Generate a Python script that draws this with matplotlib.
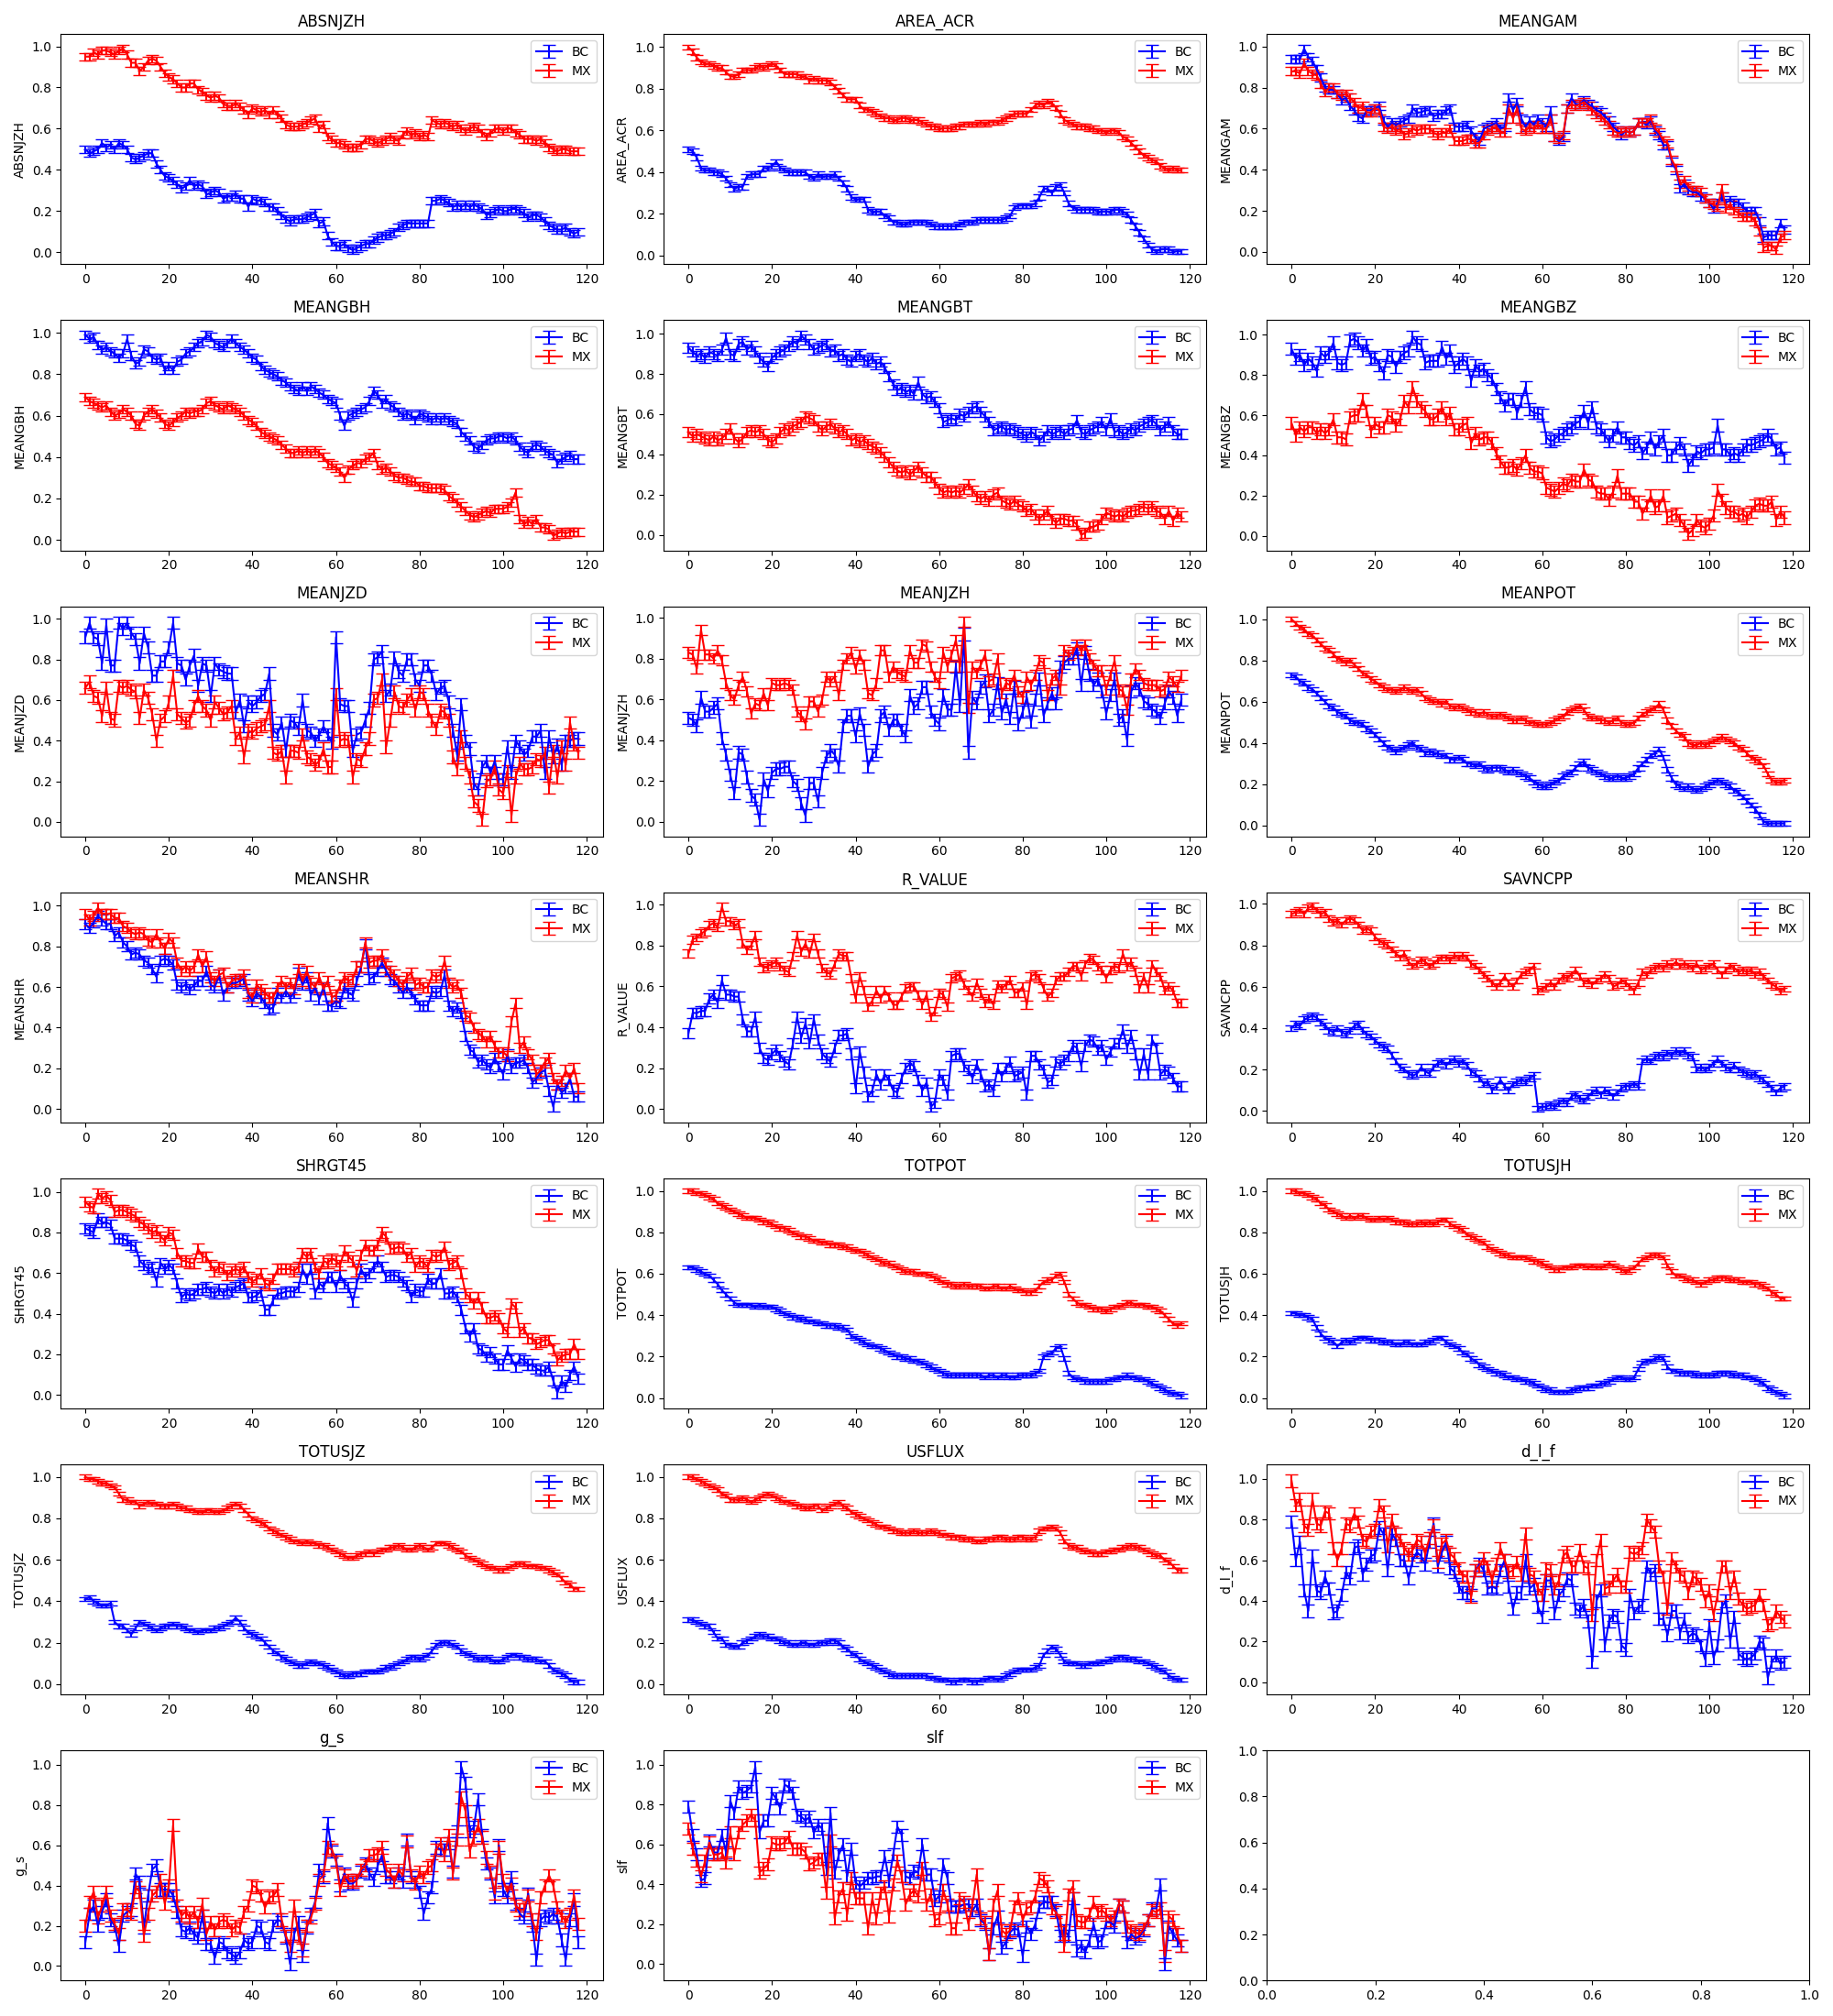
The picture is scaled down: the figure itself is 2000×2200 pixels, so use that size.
import numpy as np
import matplotlib
matplotlib.use("Agg")
import matplotlib.pyplot as plt

FEATURES = ["ABSNJZH", "AREA_ACR", "MEANGAM", "MEANGBH", "MEANGBT", "MEANGBZ",
            "MEANJZD", "MEANJZH", "MEANPOT", "MEANSHR", "R_VALUE", "SAVNCPP",
            "SHRGT45", "TOTPOT", "TOTUSJH", "TOTUSJZ", "USFLUX", "d_l_f", "g_s", "slf"]

ABSNJZH_BC = [0.50, 0.48, 0.49, 0.50, 0.53, 0.51, 0.52, 0.50, 0.53, 0.52,
              0.50, 0.46, 0.45, 0.46, 0.47, 0.48, 0.48, 0.43, 0.40, 0.37,
              0.36, 0.35, 0.33, 0.31, 0.32, 0.35, 0.32, 0.33, 0.32, 0.28,
              0.29, 0.30, 0.29, 0.26, 0.27, 0.27, 0.28, 0.26, 0.26, 0.22,
              0.26, 0.25, 0.25, 0.24, 0.22, 0.22, 0.20, 0.18, 0.16, 0.15,
              0.16, 0.16, 0.16, 0.17, 0.18, 0.19, 0.14, 0.15, 0.08, 0.05,
              0.03, 0.03, 0.04, 0.02, 0.01, 0.02, 0.03, 0.04, 0.04, 0.06,
              0.07, 0.08, 0.08, 0.09, 0.10, 0.12, 0.13, 0.14, 0.14, 0.14,
              0.14, 0.14, 0.14, 0.25, 0.25, 0.26, 0.25, 0.24, 0.22, 0.23,
              0.22, 0.23, 0.22, 0.23, 0.22, 0.21, 0.18, 0.19, 0.20, 0.21,
              0.20, 0.20, 0.21, 0.21, 0.20, 0.19, 0.17, 0.18, 0.18, 0.17,
              0.15, 0.13, 0.12, 0.11, 0.11, 0.12, 0.10, 0.09, 0.10]
ABSNJZH_MX = [0.95, 0.95, 0.97, 0.96, 0.98, 0.98, 0.97, 0.96, 0.98, 0.99,
              0.96, 0.92, 0.92, 0.88, 0.90, 0.93, 0.94, 0.93, 0.90, 0.87,
              0.85, 0.84, 0.82, 0.80, 0.80, 0.82, 0.82, 0.79, 0.78, 0.76,
              0.75, 0.76, 0.75, 0.72, 0.71, 0.71, 0.72, 0.71, 0.69, 0.67,
              0.70, 0.69, 0.68, 0.69, 0.67, 0.69, 0.67, 0.65, 0.62, 0.61,
              0.61, 0.61, 0.62, 0.63, 0.64, 0.65, 0.60, 0.62, 0.56, 0.55,
              0.53, 0.53, 0.52, 0.51, 0.51, 0.51, 0.52, 0.55, 0.55, 0.54,
              0.53, 0.54, 0.55, 0.56, 0.55, 0.54, 0.57, 0.59, 0.57, 0.58,
              0.56, 0.57, 0.56, 0.64, 0.63, 0.62, 0.63, 0.62, 0.61, 0.62,
              0.60, 0.59, 0.60, 0.61, 0.60, 0.58, 0.56, 0.58, 0.60, 0.60,
              0.59, 0.60, 0.60, 0.58, 0.57, 0.55, 0.55, 0.55, 0.54, 0.55,
              0.53, 0.51, 0.50, 0.49, 0.50, 0.50, 0.49, 0.49, 0.49]

AREA_ACR_BC = [0.51, 0.50, 0.47, 0.42, 0.41, 0.41, 0.40, 0.40, 0.39, 0.37,
               0.34, 0.32, 0.33, 0.33, 0.38, 0.39, 0.39, 0.39, 0.42, 0.42,
               0.43, 0.45, 0.42, 0.41, 0.40, 0.40, 0.40, 0.40, 0.40, 0.38,
               0.37, 0.39, 0.38, 0.38, 0.38, 0.39, 0.37, 0.35, 0.32, 0.28,
               0.27, 0.27, 0.27, 0.22, 0.21, 0.21, 0.21, 0.19, 0.18, 0.16,
               0.16, 0.15, 0.15, 0.16, 0.16, 0.16, 0.16, 0.16, 0.15, 0.14,
               0.14, 0.14, 0.14, 0.14, 0.14, 0.15, 0.16, 0.16, 0.16, 0.17,
               0.17, 0.17, 0.17, 0.17, 0.17, 0.17, 0.18, 0.19, 0.23, 0.24,
               0.24, 0.24, 0.24, 0.25, 0.28, 0.32, 0.32, 0.30, 0.33, 0.34,
               0.30, 0.25, 0.23, 0.22, 0.22, 0.22, 0.22, 0.22, 0.21, 0.21,
               0.21, 0.21, 0.22, 0.22, 0.21, 0.20, 0.17, 0.14, 0.11, 0.08,
               0.05, 0.03, 0.02, 0.03, 0.03, 0.03, 0.02, 0.02, 0.02]
AREA_ACR_MX = [1.00, 0.98, 0.95, 0.93, 0.92, 0.92, 0.91, 0.90, 0.90, 0.88,
               0.86, 0.86, 0.87, 0.89, 0.89, 0.89, 0.90, 0.91, 0.90, 0.91,
               0.92, 0.91, 0.89, 0.87, 0.87, 0.87, 0.87, 0.86, 0.86, 0.84,
               0.85, 0.84, 0.84, 0.84, 0.83, 0.81, 0.79, 0.77, 0.75, 0.75,
               0.75, 0.72, 0.70, 0.70, 0.69, 0.68, 0.67, 0.66, 0.66, 0.65,
               0.65, 0.66, 0.66, 0.65, 0.65, 0.65, 0.64, 0.63, 0.62, 0.62,
               0.61, 0.61, 0.61, 0.61, 0.62, 0.62, 0.63, 0.63, 0.63, 0.63,
               0.64, 0.63, 0.64, 0.64, 0.64, 0.65, 0.66, 0.67, 0.68, 0.68,
               0.68, 0.68, 0.70, 0.72, 0.73, 0.72, 0.74, 0.73, 0.71, 0.68,
               0.65, 0.64, 0.63, 0.62, 0.62, 0.62, 0.61, 0.61, 0.60, 0.60,
               0.59, 0.60, 0.60, 0.59, 0.57, 0.56, 0.54, 0.52, 0.50, 0.48,
               0.47, 0.46, 0.45, 0.43, 0.42, 0.41, 0.42, 0.41, 0.41]

MEANGAM_BC = [0.94, 0.94, 0.94, 0.99, 0.95, 0.93, 0.89, 0.85, 0.80, 0.79,
              0.79, 0.77, 0.74, 0.75, 0.71, 0.69, 0.66, 0.65, 0.69, 0.69,
              0.70, 0.71, 0.64, 0.61, 0.63, 0.62, 0.63, 0.64, 0.65, 0.70,
              0.68, 0.68, 0.69, 0.69, 0.66, 0.67, 0.67, 0.69, 0.70, 0.61,
              0.61, 0.61, 0.62, 0.59, 0.56, 0.54, 0.60, 0.61, 0.62, 0.63,
              0.60, 0.61, 0.75, 0.69, 0.73, 0.65, 0.61, 0.64, 0.62, 0.65,
              0.63, 0.61, 0.69, 0.56, 0.54, 0.56, 0.70, 0.75, 0.72, 0.72,
              0.74, 0.72, 0.71, 0.69, 0.68, 0.66, 0.64, 0.61, 0.59, 0.57,
              0.59, 0.58, 0.59, 0.63, 0.63, 0.62, 0.64, 0.59, 0.57, 0.52,
              0.52, 0.44, 0.40, 0.31, 0.33, 0.30, 0.29, 0.29, 0.27, 0.26,
              0.24, 0.21, 0.24, 0.27, 0.24, 0.25, 0.24, 0.24, 0.22, 0.20,
              0.20, 0.20, 0.15, 0.07, 0.08, 0.08, 0.08, 0.14, 0.11]
MEANGAM_MX = [0.88, 0.88, 0.87, 0.92, 0.88, 0.87, 0.86, 0.82, 0.78, 0.80,
              0.80, 0.77, 0.76, 0.77, 0.75, 0.73, 0.70, 0.71, 0.68, 0.68,
              0.70, 0.69, 0.61, 0.60, 0.61, 0.59, 0.60, 0.57, 0.58, 0.60,
              0.59, 0.60, 0.60, 0.60, 0.58, 0.57, 0.58, 0.58, 0.60, 0.54,
              0.54, 0.54, 0.55, 0.55, 0.53, 0.53, 0.57, 0.59, 0.60, 0.61,
              0.58, 0.58, 0.70, 0.65, 0.70, 0.60, 0.59, 0.61, 0.60, 0.62,
              0.60, 0.60, 0.65, 0.56, 0.55, 0.57, 0.70, 0.72, 0.71, 0.72,
              0.73, 0.71, 0.69, 0.67, 0.66, 0.64, 0.62, 0.59, 0.58, 0.58,
              0.59, 0.58, 0.59, 0.63, 0.63, 0.63, 0.65, 0.60, 0.58, 0.54,
              0.53, 0.45, 0.41, 0.33, 0.35, 0.32, 0.30, 0.30, 0.29, 0.26,
              0.24, 0.23, 0.22, 0.31, 0.21, 0.23, 0.20, 0.19, 0.17, 0.17,
              0.17, 0.15, 0.10, 0.02, 0.03, 0.03, 0.01, 0.07, 0.08]

MEANGBH_BC = [0.99, 0.97, 0.98, 0.94, 0.92, 0.93, 0.91, 0.90, 0.88, 0.90,
              0.97, 0.89, 0.85, 0.86, 0.92, 0.91, 0.88, 0.87, 0.88, 0.82,
              0.84, 0.82, 0.86, 0.87, 0.90, 0.91, 0.93, 0.95, 0.96, 0.99,
              0.98, 0.95, 0.94, 0.93, 0.95, 0.97, 0.95, 0.93, 0.92, 0.90,
              0.88, 0.87, 0.84, 0.82, 0.81, 0.80, 0.79, 0.77, 0.76, 0.74,
              0.73, 0.72, 0.74, 0.72, 0.74, 0.73, 0.71, 0.70, 0.68, 0.67,
              0.66, 0.60, 0.55, 0.60, 0.61, 0.62, 0.63, 0.64, 0.67, 0.72,
              0.70, 0.66, 0.68, 0.65, 0.64, 0.62, 0.60, 0.61, 0.60, 0.58,
              0.61, 0.60, 0.59, 0.58, 0.59, 0.58, 0.59, 0.58, 0.57, 0.56,
              0.52, 0.50, 0.48, 0.45, 0.44, 0.46, 0.48, 0.49, 0.49, 0.50,
              0.50, 0.49, 0.50, 0.48, 0.45, 0.43, 0.42, 0.45, 0.46, 0.45,
              0.43, 0.42, 0.41, 0.37, 0.39, 0.40, 0.41, 0.39, 0.39]
MEANGBH_MX = [0.69, 0.67, 0.66, 0.65, 0.64, 0.65, 0.62, 0.60, 0.61, 0.63,
              0.62, 0.60, 0.56, 0.55, 0.60, 0.62, 0.63, 0.61, 0.59, 0.56,
              0.55, 0.57, 0.59, 0.60, 0.62, 0.61, 0.62, 0.62, 0.63, 0.66,
              0.67, 0.65, 0.64, 0.63, 0.65, 0.64, 0.63, 0.62, 0.60, 0.58,
              0.57, 0.55, 0.52, 0.51, 0.50, 0.49, 0.48, 0.46, 0.44, 0.42,
              0.42, 0.43, 0.42, 0.43, 0.42, 0.43, 0.42, 0.40, 0.37, 0.36,
              0.35, 0.33, 0.30, 0.34, 0.36, 0.37, 0.37, 0.39, 0.40, 0.42,
              0.36, 0.34, 0.35, 0.33, 0.31, 0.30, 0.30, 0.29, 0.28, 0.28,
              0.26, 0.26, 0.25, 0.25, 0.25, 0.25, 0.24, 0.21, 0.20, 0.18,
              0.16, 0.14, 0.12, 0.11, 0.12, 0.13, 0.14, 0.13, 0.15, 0.15,
              0.15, 0.16, 0.18, 0.23, 0.10, 0.08, 0.09, 0.08, 0.10, 0.06,
              0.06, 0.05, 0.02, 0.03, 0.04, 0.03, 0.04, 0.04, 0.04]

MEANGBT_BC = [0.93, 0.91, 0.89, 0.90, 0.88, 0.91, 0.90, 0.89, 0.92, 0.98,
              0.90, 0.89, 0.95, 0.96, 0.92, 0.94, 0.91, 0.88, 0.86, 0.84,
              0.88, 0.90, 0.91, 0.92, 0.94, 0.96, 0.95, 0.99, 0.97, 0.95,
              0.92, 0.93, 0.94, 0.95, 0.91, 0.92, 0.89, 0.90, 0.87, 0.86,
              0.89, 0.90, 0.87, 0.86, 0.88, 0.85, 0.86, 0.83, 0.79, 0.75,
              0.72, 0.73, 0.71, 0.72, 0.70, 0.76, 0.70, 0.68, 0.69, 0.66,
              0.63, 0.56, 0.57, 0.58, 0.57, 0.60, 0.59, 0.61, 0.63, 0.64,
              0.61, 0.59, 0.56, 0.52, 0.53, 0.54, 0.52, 0.53, 0.52, 0.51,
              0.50, 0.49, 0.51, 0.50, 0.47, 0.49, 0.52, 0.50, 0.51, 0.52,
              0.50, 0.52, 0.53, 0.57, 0.51, 0.50, 0.52, 0.53, 0.54, 0.56,
              0.52, 0.58, 0.51, 0.52, 0.50, 0.51, 0.53, 0.52, 0.54, 0.55,
              0.56, 0.57, 0.55, 0.52, 0.54, 0.56, 0.52, 0.50, 0.50]
MEANGBT_MX = [0.51, 0.49, 0.50, 0.49, 0.48, 0.47, 0.49, 0.47, 0.48, 0.50,
              0.53, 0.48, 0.46, 0.48, 0.51, 0.52, 0.51, 0.52, 0.50, 0.47,
              0.46, 0.48, 0.51, 0.53, 0.52, 0.54, 0.55, 0.56, 0.59, 0.58,
              0.57, 0.54, 0.52, 0.54, 0.55, 0.53, 0.51, 0.52, 0.50, 0.47,
              0.48, 0.46, 0.47, 0.45, 0.44, 0.43, 0.41, 0.39, 0.36, 0.34,
              0.32, 0.31, 0.32, 0.30, 0.32, 0.34, 0.31, 0.29, 0.29, 0.26,
              0.23, 0.21, 0.22, 0.21, 0.22, 0.21, 0.23, 0.25, 0.22, 0.19,
              0.18, 0.19, 0.17, 0.20, 0.21, 0.17, 0.16, 0.15, 0.17, 0.15,
              0.14, 0.12, 0.13, 0.10, 0.08, 0.10, 0.12, 0.08, 0.06, 0.08,
              0.08, 0.07, 0.07, 0.05, 0.00, 0.01, 0.04, 0.04, 0.05, 0.08,
              0.11, 0.10, 0.09, 0.10, 0.09, 0.11, 0.12, 0.12, 0.13, 0.14,
              0.13, 0.14, 0.12, 0.11, 0.08, 0.12, 0.07, 0.11, 0.09]

MEANGBZ_BC = [0.93, 0.88, 0.90, 0.85, 0.88, 0.86, 0.82, 0.91, 0.89, 0.91,
              0.96, 0.86, 0.85, 0.86, 0.97, 0.98, 0.96, 0.92, 0.95, 0.88,
              0.89, 0.85, 0.81, 0.90, 0.89, 0.84, 0.89, 0.91, 0.92, 0.99,
              0.96, 0.95, 0.86, 0.87, 0.87, 0.87, 0.94, 0.88, 0.92, 0.84,
              0.86, 0.88, 0.86, 0.77, 0.85, 0.82, 0.83, 0.80, 0.78, 0.73,
              0.69, 0.65, 0.68, 0.68, 0.61, 0.67, 0.74, 0.63, 0.61, 0.61,
              0.60, 0.49, 0.47, 0.48, 0.50, 0.51, 0.53, 0.54, 0.56, 0.57,
              0.62, 0.56, 0.64, 0.54, 0.53, 0.50, 0.47, 0.50, 0.54, 0.49,
              0.49, 0.46, 0.45, 0.47, 0.41, 0.44, 0.49, 0.43, 0.47, 0.50,
              0.40, 0.40, 0.44, 0.46, 0.43, 0.35, 0.38, 0.42, 0.41, 0.43,
              0.43, 0.44, 0.55, 0.43, 0.43, 0.40, 0.41, 0.40, 0.43, 0.45,
              0.45, 0.46, 0.47, 0.48, 0.50, 0.48, 0.43, 0.44, 0.39]
MEANGBZ_MX = [0.56, 0.50, 0.54, 0.52, 0.54, 0.54, 0.51, 0.53, 0.51, 0.53,
              0.58, 0.49, 0.49, 0.48, 0.59, 0.60, 0.60, 0.68, 0.62, 0.52,
              0.56, 0.54, 0.54, 0.60, 0.59, 0.55, 0.58, 0.67, 0.64, 0.74,
              0.67, 0.64, 0.62, 0.58, 0.58, 0.60, 0.64, 0.58, 0.61, 0.53,
              0.53, 0.55, 0.56, 0.46, 0.51, 0.48, 0.49, 0.49, 0.46, 0.41,
              0.37, 0.34, 0.34, 0.35, 0.33, 0.36, 0.40, 0.34, 0.32, 0.32,
              0.31, 0.24, 0.23, 0.22, 0.24, 0.26, 0.25, 0.28, 0.27, 0.27,
              0.33, 0.28, 0.27, 0.22, 0.21, 0.21, 0.18, 0.22, 0.30, 0.21,
              0.21, 0.21, 0.17, 0.17, 0.11, 0.15, 0.20, 0.14, 0.15, 0.20,
              0.09, 0.10, 0.11, 0.08, 0.05, 0.01, 0.03, 0.08, 0.05, 0.04,
              0.06, 0.10, 0.23, 0.18, 0.14, 0.12, 0.12, 0.10, 0.11, 0.09,
              0.12, 0.15, 0.16, 0.15, 0.15, 0.17, 0.08, 0.12, 0.09]

MEANJZD_BC = [0.91, 0.98, 0.91, 0.90, 0.78, 0.97, 0.77, 0.77, 0.98, 0.95,
              0.98, 0.93, 0.90, 0.78, 0.93, 0.86, 0.72, 0.72, 0.79, 0.79,
              0.86, 0.98, 0.78, 0.77, 0.70, 0.77, 0.82, 0.67, 0.78, 0.77,
              0.62, 0.78, 0.75, 0.74, 0.73, 0.73, 0.54, 0.60, 0.47, 0.59,
              0.57, 0.59, 0.62, 0.63, 0.73, 0.45, 0.43, 0.49, 0.35, 0.50,
              0.49, 0.46, 0.60, 0.45, 0.44, 0.40, 0.43, 0.47, 0.43, 0.39,
              0.91, 0.58, 0.57, 0.57, 0.35, 0.43, 0.44, 0.50, 0.56, 0.80,
              0.81, 0.84, 0.62, 0.65, 0.81, 0.74, 0.72, 0.80, 0.80, 0.70,
              0.67, 0.77, 0.77, 0.72, 0.63, 0.66, 0.67, 0.59, 0.45, 0.33,
              0.58, 0.40, 0.36, 0.19, 0.16, 0.27, 0.30, 0.24, 0.30, 0.21,
              0.21, 0.37, 0.24, 0.40, 0.37, 0.33, 0.35, 0.42, 0.42, 0.45,
              0.24, 0.42, 0.32, 0.38, 0.28, 0.40, 0.40, 0.41, 0.41]
MEANJZD_MX = [0.66, 0.69, 0.62, 0.61, 0.52, 0.66, 0.51, 0.50, 0.67, 0.66,
              0.67, 0.65, 0.64, 0.51, 0.65, 0.61, 0.53, 0.40, 0.50, 0.52,
              0.59, 0.72, 0.53, 0.51, 0.49, 0.50, 0.57, 0.62, 0.57, 0.55,
              0.50, 0.59, 0.56, 0.53, 0.54, 0.57, 0.41, 0.44, 0.32, 0.45,
              0.44, 0.46, 0.47, 0.48, 0.57, 0.34, 0.33, 0.35, 0.22, 0.35,
              0.35, 0.34, 0.43, 0.32, 0.31, 0.28, 0.30, 0.36, 0.27, 0.27,
              0.63, 0.40, 0.41, 0.40, 0.22, 0.31, 0.30, 0.36, 0.41, 0.60,
              0.61, 0.70, 0.37, 0.50, 0.64, 0.57, 0.56, 0.60, 0.63, 0.55,
              0.64, 0.63, 0.55, 0.50, 0.46, 0.55, 0.54, 0.50, 0.32, 0.26,
              0.42, 0.29, 0.22, 0.10, 0.08, 0.01, 0.20, 0.21, 0.27, 0.16,
              0.14, 0.25, 0.03, 0.22, 0.29, 0.26, 0.26, 0.27, 0.31, 0.30,
              0.34, 0.17, 0.35, 0.22, 0.37, 0.28, 0.49, 0.38, 0.34]

MEANJZH_BC = [0.51, 0.50, 0.47, 0.61, 0.54, 0.54, 0.56, 0.58, 0.41, 0.33,
              0.23, 0.14, 0.34, 0.33, 0.22, 0.13, 0.11, 0.01, 0.21, 0.15,
              0.24, 0.26, 0.26, 0.27, 0.27, 0.20, 0.18, 0.09, 0.03, 0.19,
              0.19, 0.10, 0.24, 0.32, 0.35, 0.33, 0.27, 0.47, 0.52, 0.52,
              0.42, 0.53, 0.45, 0.27, 0.33, 0.35, 0.52, 0.54, 0.45, 0.50,
              0.50, 0.45, 0.42, 0.62, 0.56, 0.58, 0.66, 0.66, 0.54, 0.50,
              0.48, 0.62, 0.55, 0.55, 0.76, 0.57, 0.92, 0.34, 0.61, 0.58,
              0.66, 0.69, 0.52, 0.55, 0.68, 0.53, 0.60, 0.51, 0.66, 0.48,
              0.54, 0.61, 0.49, 0.60, 0.70, 0.52, 0.58, 0.63, 0.58, 0.76,
              0.78, 0.80, 0.80, 0.85, 0.67, 0.83, 0.72, 0.67, 0.70, 0.64,
              0.53, 0.62, 0.70, 0.50, 0.52, 0.40, 0.64, 0.68, 0.65, 0.59,
              0.58, 0.55, 0.54, 0.51, 0.58, 0.64, 0.61, 0.52, 0.60]
MEANJZH_MX = [0.83, 0.82, 0.75, 0.94, 0.82, 0.82, 0.80, 0.84, 0.79, 0.68,
              0.62, 0.60, 0.67, 0.71, 0.64, 0.53, 0.58, 0.57, 0.63, 0.57,
              0.68, 0.67, 0.67, 0.68, 0.67, 0.65, 0.54, 0.52, 0.48, 0.59,
              0.59, 0.54, 0.60, 0.71, 0.69, 0.71, 0.62, 0.77, 0.80, 0.83,
              0.75, 0.82, 0.77, 0.63, 0.62, 0.68, 0.84, 0.84, 0.71, 0.76,
              0.73, 0.72, 0.71, 0.84, 0.78, 0.78, 0.87, 0.86, 0.76, 0.71,
              0.68, 0.83, 0.76, 0.82, 0.89, 0.76, 0.98, 0.56, 0.76, 0.73,
              0.77, 0.82, 0.69, 0.70, 0.80, 0.63, 0.68, 0.67, 0.72, 0.64,
              0.61, 0.71, 0.67, 0.72, 0.79, 0.78, 0.62, 0.70, 0.72, 0.65,
              0.84, 0.82, 0.83, 0.87, 0.84, 0.87, 0.80, 0.77, 0.74, 0.74,
              0.65, 0.72, 0.79, 0.65, 0.64, 0.55, 0.70, 0.75, 0.72, 0.68,
              0.67, 0.67, 0.67, 0.64, 0.65, 0.71, 0.69, 0.66, 0.72]

MEANPOT_BC = [0.73, 0.72, 0.70, 0.69, 0.67, 0.66, 0.64, 0.62, 0.60, 0.58,
              0.57, 0.55, 0.54, 0.53, 0.51, 0.50, 0.50, 0.49, 0.47, 0.46,
              0.44, 0.42, 0.40, 0.38, 0.37, 0.36, 0.37, 0.38, 0.39, 0.40,
              0.38, 0.37, 0.35, 0.36, 0.35, 0.35, 0.34, 0.34, 0.32, 0.32,
              0.33, 0.32, 0.30, 0.30, 0.29, 0.30, 0.28, 0.27, 0.28, 0.28,
              0.28, 0.27, 0.26, 0.27, 0.26, 0.25, 0.24, 0.23, 0.21, 0.20,
              0.19, 0.19, 0.20, 0.21, 0.22, 0.24, 0.25, 0.26, 0.28, 0.30,
              0.31, 0.28, 0.27, 0.26, 0.25, 0.24, 0.23, 0.23, 0.24, 0.23,
              0.23, 0.24, 0.25, 0.28, 0.30, 0.32, 0.34, 0.35, 0.37, 0.33,
              0.27, 0.23, 0.20, 0.19, 0.18, 0.19, 0.18, 0.17, 0.18, 0.19,
              0.20, 0.21, 0.22, 0.21, 0.20, 0.19, 0.17, 0.16, 0.14, 0.12,
              0.10, 0.08, 0.05, 0.02, 0.01, 0.01, 0.01, 0.01, 0.01]
MEANPOT_MX = [1.00, 0.98, 0.96, 0.95, 0.93, 0.92, 0.90, 0.88, 0.86, 0.85,
              0.83, 0.81, 0.80, 0.79, 0.80, 0.78, 0.76, 0.74, 0.73, 0.71,
              0.70, 0.68, 0.67, 0.66, 0.66, 0.65, 0.66, 0.67, 0.66, 0.65,
              0.66, 0.64, 0.62, 0.61, 0.60, 0.60, 0.59, 0.60, 0.58, 0.57,
              0.58, 0.57, 0.56, 0.55, 0.55, 0.54, 0.55, 0.54, 0.53, 0.53,
              0.54, 0.53, 0.52, 0.51, 0.51, 0.52, 0.51, 0.50, 0.50, 0.49,
              0.49, 0.49, 0.50, 0.51, 0.52, 0.53, 0.55, 0.56, 0.57, 0.58,
              0.56, 0.53, 0.52, 0.52, 0.51, 0.51, 0.50, 0.51, 0.52, 0.50,
              0.49, 0.49, 0.50, 0.52, 0.54, 0.55, 0.56, 0.57, 0.59, 0.56,
              0.51, 0.48, 0.46, 0.44, 0.43, 0.40, 0.39, 0.39, 0.40, 0.39,
              0.40, 0.41, 0.42, 0.43, 0.42, 0.41, 0.40, 0.38, 0.37, 0.35,
              0.33, 0.32, 0.31, 0.29, 0.25, 0.22, 0.21, 0.21, 0.22]

MEANSHR_BC = [0.91, 0.89, 0.92, 0.95, 0.93, 0.91, 0.91, 0.85, 0.87, 0.82,
              0.80, 0.76, 0.77, 0.76, 0.73, 0.72, 0.69, 0.65, 0.73, 0.74,
              0.73, 0.71, 0.61, 0.60, 0.61, 0.59, 0.61, 0.63, 0.63, 0.68,
              0.61, 0.60, 0.66, 0.56, 0.60, 0.62, 0.62, 0.63, 0.64, 0.56,
              0.53, 0.57, 0.55, 0.52, 0.49, 0.50, 0.57, 0.55, 0.58, 0.55,
              0.57, 0.67, 0.61, 0.65, 0.56, 0.60, 0.54, 0.60, 0.51, 0.51,
              0.53, 0.52, 0.60, 0.57, 0.56, 0.63, 0.70, 0.81, 0.64, 0.65,
              0.68, 0.72, 0.68, 0.64, 0.63, 0.60, 0.57, 0.60, 0.57, 0.54,
              0.51, 0.51, 0.51, 0.58, 0.57, 0.58, 0.66, 0.51, 0.48, 0.50,
              0.47, 0.36, 0.29, 0.28, 0.23, 0.24, 0.22, 0.20, 0.25, 0.21,
              0.17, 0.27, 0.20, 0.23, 0.23, 0.24, 0.20, 0.13, 0.15, 0.18,
              0.19, 0.09, 0.01, 0.12, 0.08, 0.10, 0.15, 0.06, 0.06]
MEANSHR_MX = [0.96, 0.93, 0.95, 0.99, 0.96, 0.96, 0.96, 0.94, 0.94, 0.90,
              0.89, 0.87, 0.86, 0.87, 0.86, 0.83, 0.82, 0.86, 0.82, 0.79,
              0.84, 0.82, 0.72, 0.68, 0.70, 0.68, 0.70, 0.76, 0.70, 0.75,
              0.65, 0.63, 0.66, 0.67, 0.60, 0.63, 0.64, 0.64, 0.66, 0.57,
              0.55, 0.61, 0.59, 0.57, 0.55, 0.55, 0.60, 0.63, 0.60, 0.62,
              0.59, 0.69, 0.63, 0.68, 0.62, 0.60, 0.65, 0.59, 0.63, 0.55,
              0.56, 0.61, 0.65, 0.63, 0.64, 0.70, 0.70, 0.82, 0.72, 0.73,
              0.73, 0.76, 0.70, 0.68, 0.66, 0.63, 0.61, 0.65, 0.67, 0.61,
              0.62, 0.60, 0.60, 0.66, 0.65, 0.66, 0.73, 0.62, 0.60, 0.61,
              0.57, 0.46, 0.45, 0.40, 0.37, 0.36, 0.33, 0.36, 0.31, 0.28,
              0.28, 0.26, 0.43, 0.52, 0.30, 0.33, 0.27, 0.24, 0.17, 0.19,
              0.23, 0.25, 0.15, 0.12, 0.14, 0.19, 0.15, 0.20, 0.10]

R_VALUE_BC = [0.37, 0.47, 0.47, 0.48, 0.48, 0.54, 0.56, 0.52, 0.63, 0.56,
              0.56, 0.55, 0.55, 0.44, 0.38, 0.38, 0.45, 0.30, 0.25, 0.24,
              0.27, 0.29, 0.26, 0.23, 0.22, 0.32, 0.45, 0.35, 0.42, 0.32,
              0.44, 0.34, 0.27, 0.25, 0.23, 0.30, 0.36, 0.36, 0.37, 0.27,
              0.10, 0.28, 0.18, 0.06, 0.09, 0.17, 0.12, 0.17, 0.14, 0.09,
              0.08, 0.15, 0.20, 0.22, 0.21, 0.14, 0.09, 0.13, 0.01, 0.03,
              0.17, 0.14, 0.07, 0.26, 0.27, 0.27, 0.21, 0.19, 0.15, 0.22,
              0.17, 0.11, 0.12, 0.09, 0.20, 0.16, 0.20, 0.23, 0.16, 0.17,
              0.18, 0.07, 0.26, 0.26, 0.22, 0.19, 0.13, 0.14, 0.23, 0.22,
              0.24, 0.26, 0.31, 0.30, 0.21, 0.31, 0.34, 0.33, 0.29, 0.31,
              0.24, 0.28, 0.32, 0.32, 0.39, 0.30, 0.36, 0.27, 0.17, 0.27,
              0.17, 0.34, 0.30, 0.17, 0.19, 0.18, 0.15, 0.11, 0.11]
R_VALUE_MX = [0.76, 0.83, 0.84, 0.86, 0.87, 0.90, 0.91, 0.89, 0.99, 0.92,
              0.92, 0.90, 0.91, 0.81, 0.78, 0.80, 0.85, 0.72, 0.69, 0.70,
              0.71, 0.72, 0.70, 0.68, 0.67, 0.75, 0.85, 0.77, 0.81, 0.76,
              0.84, 0.76, 0.69, 0.67, 0.66, 0.71, 0.76, 0.75, 0.75, 0.64,
              0.54, 0.65, 0.58, 0.50, 0.53, 0.58, 0.54, 0.58, 0.55, 0.51,
              0.51, 0.55, 0.59, 0.60, 0.60, 0.56, 0.51, 0.56, 0.45, 0.48,
              0.57, 0.56, 0.50, 0.64, 0.65, 0.66, 0.61, 0.58, 0.55, 0.62,
              0.57, 0.52, 0.54, 0.51, 0.61, 0.59, 0.61, 0.63, 0.57, 0.57,
              0.60, 0.51, 0.65, 0.66, 0.64, 0.59, 0.55, 0.57, 0.63, 0.65,
              0.65, 0.67, 0.70, 0.70, 0.65, 0.71, 0.74, 0.73, 0.70, 0.68,
              0.64, 0.68, 0.70, 0.69, 0.76, 0.70, 0.72, 0.67, 0.59, 0.65,
              0.59, 0.71, 0.67, 0.65, 0.58, 0.60, 0.58, 0.52, 0.52]

SAVNCPP_BC = [0.40, 0.42, 0.41, 0.44, 0.45, 0.46, 0.45, 0.43, 0.41, 0.39,
              0.38, 0.40, 0.38, 0.37, 0.39, 0.41, 0.42, 0.39, 0.37, 0.36,
              0.34, 0.32, 0.31, 0.30, 0.27, 0.24, 0.21, 0.20, 0.18, 0.17,
              0.18, 0.21, 0.19, 0.18, 0.21, 0.23, 0.24, 0.22, 0.24, 0.25,
              0.23, 0.24, 0.22, 0.19, 0.18, 0.16, 0.13, 0.14, 0.10, 0.12,
              0.15, 0.12, 0.10, 0.13, 0.14, 0.15, 0.14, 0.16, 0.17, 0.01,
              0.02, 0.02, 0.03, 0.02, 0.04, 0.05, 0.04, 0.07, 0.08, 0.06,
              0.05, 0.07, 0.09, 0.10, 0.08, 0.10, 0.09, 0.07, 0.09, 0.11,
              0.12, 0.12, 0.13, 0.12, 0.24, 0.25, 0.24, 0.26, 0.27, 0.26,
              0.28, 0.27, 0.29, 0.28, 0.29, 0.27, 0.26, 0.20, 0.21, 0.20,
              0.21, 0.23, 0.25, 0.23, 0.21, 0.20, 0.22, 0.20, 0.19, 0.18,
              0.17, 0.18, 0.16, 0.15, 0.13, 0.11, 0.09, 0.11, 0.12]
SAVNCPP_MX = [0.95, 0.96, 0.97, 0.95, 0.98, 0.99, 0.97, 0.95, 0.96, 0.93,
              0.91, 0.92, 0.90, 0.92, 0.93, 0.92, 0.90, 0.87, 0.88, 0.87,
              0.84, 0.82, 0.81, 0.80, 0.78, 0.76, 0.74, 0.76, 0.72, 0.70,
              0.71, 0.73, 0.72, 0.70, 0.71, 0.73, 0.74, 0.74, 0.73, 0.75,
              0.74, 0.75, 0.74, 0.71, 0.70, 0.68, 0.66, 0.64, 0.62, 0.60,
              0.62, 0.65, 0.62, 0.60, 0.63, 0.66, 0.67, 0.68, 0.70, 0.58,
              0.59, 0.60, 0.62, 0.60, 0.63, 0.65, 0.64, 0.66, 0.68, 0.65,
              0.62, 0.63, 0.61, 0.63, 0.64, 0.66, 0.64, 0.60, 0.61, 0.63,
              0.62, 0.60, 0.58, 0.62, 0.67, 0.66, 0.68, 0.69, 0.70, 0.69,
              0.71, 0.70, 0.72, 0.70, 0.71, 0.70, 0.69, 0.71, 0.68, 0.69,
              0.70, 0.71, 0.68, 0.66, 0.68, 0.70, 0.69, 0.67, 0.68, 0.67,
              0.68, 0.66, 0.67, 0.65, 0.63, 0.61, 0.60, 0.58, 0.59]

SHRGT45_BC = [0.82, 0.81, 0.80, 0.87, 0.85, 0.85, 0.84, 0.77, 0.77, 0.77,
              0.76, 0.74, 0.73, 0.66, 0.64, 0.62, 0.63, 0.56, 0.65, 0.62,
              0.64, 0.62, 0.55, 0.48, 0.50, 0.49, 0.50, 0.52, 0.52, 0.53,
              0.51, 0.50, 0.52, 0.50, 0.52, 0.51, 0.53, 0.54, 0.55, 0.48,
              0.48, 0.49, 0.51, 0.42, 0.42, 0.47, 0.50, 0.50, 0.51, 0.51,
              0.51, 0.53, 0.62, 0.57, 0.62, 0.50, 0.55, 0.53, 0.58, 0.58,
              0.53, 0.59, 0.55, 0.53, 0.46, 0.55, 0.62, 0.58, 0.60, 0.63,
              0.66, 0.63, 0.58, 0.59, 0.59, 0.58, 0.56, 0.54, 0.48, 0.52,
              0.51, 0.51, 0.57, 0.55, 0.55, 0.60, 0.50, 0.50, 0.51, 0.48,
              0.42, 0.33, 0.29, 0.33, 0.23, 0.22, 0.19, 0.21, 0.18, 0.15,
              0.15, 0.22, 0.18, 0.14, 0.18, 0.17, 0.15, 0.15, 0.13, 0.12,
              0.12, 0.14, 0.07, 0.01, 0.07, 0.04, 0.10, 0.14, 0.08]
SHRGT45_MX = [0.95, 0.93, 0.92, 0.99, 0.97, 0.98, 0.96, 0.90, 0.91, 0.91,
              0.90, 0.89, 0.88, 0.85, 0.84, 0.82, 0.80, 0.81, 0.78, 0.76,
              0.80, 0.79, 0.70, 0.66, 0.66, 0.65, 0.65, 0.72, 0.68, 0.68,
              0.64, 0.61, 0.63, 0.62, 0.59, 0.61, 0.62, 0.61, 0.63, 0.58,
              0.56, 0.57, 0.60, 0.55, 0.54, 0.57, 0.62, 0.62, 0.62, 0.62,
              0.61, 0.63, 0.70, 0.68, 0.70, 0.63, 0.60, 0.66, 0.65, 0.67,
              0.66, 0.64, 0.71, 0.68, 0.66, 0.61, 0.69, 0.74, 0.71, 0.71,
              0.74, 0.80, 0.78, 0.72, 0.72, 0.73, 0.72, 0.68, 0.70, 0.63,
              0.66, 0.65, 0.63, 0.69, 0.68, 0.69, 0.73, 0.64, 0.65, 0.66,
              0.60, 0.50, 0.48, 0.45, 0.48, 0.43, 0.38, 0.38, 0.39, 0.38,
              0.33, 0.31, 0.45, 0.43, 0.31, 0.33, 0.28, 0.28, 0.25, 0.26,
              0.27, 0.27, 0.23, 0.17, 0.19, 0.20, 0.20, 0.25, 0.20]

TOTPOT_BC = [0.63, 0.63, 0.62, 0.61, 0.60, 0.59, 0.57, 0.55, 0.52, 0.50,
             0.48, 0.46, 0.45, 0.45, 0.45, 0.45, 0.44, 0.45, 0.44, 0.44,
             0.44, 0.43, 0.42, 0.41, 0.40, 0.39, 0.39, 0.38, 0.38, 0.37,
             0.37, 0.36, 0.36, 0.35, 0.35, 0.35, 0.34, 0.34, 0.33, 0.30,
             0.29, 0.28, 0.27, 0.26, 0.25, 0.25, 0.24, 0.23, 0.22, 0.21,
             0.20, 0.20, 0.19, 0.19, 0.18, 0.18, 0.17, 0.16, 0.15, 0.14,
             0.13, 0.12, 0.11, 0.11, 0.11, 0.11, 0.11, 0.11, 0.11, 0.11,
             0.11, 0.10, 0.11, 0.11, 0.10, 0.11, 0.11, 0.10, 0.10, 0.11,
             0.11, 0.11, 0.11, 0.12, 0.13, 0.20, 0.21, 0.22, 0.24, 0.25,
             0.19, 0.12, 0.10, 0.09, 0.09, 0.08, 0.08, 0.08, 0.08, 0.08,
             0.08, 0.09, 0.09, 0.10, 0.10, 0.11, 0.10, 0.10, 0.09, 0.09,
             0.08, 0.07, 0.06, 0.05, 0.04, 0.03, 0.02, 0.02, 0.01]
TOTPOT_MX = [1.00, 1.00, 0.99, 0.99, 0.98, 0.97, 0.96, 0.94, 0.93, 0.92,
             0.91, 0.90, 0.89, 0.88, 0.87, 0.87, 0.87, 0.86, 0.85, 0.85,
             0.84, 0.83, 0.82, 0.82, 0.81, 0.80, 0.79, 0.78, 0.78, 0.77,
             0.76, 0.76, 0.75, 0.75, 0.74, 0.74, 0.74, 0.73, 0.73, 0.72,
             0.71, 0.71, 0.70, 0.69, 0.68, 0.67, 0.66, 0.65, 0.65, 0.64,
             0.63, 0.62, 0.61, 0.61, 0.61, 0.60, 0.60, 0.60, 0.59, 0.58,
             0.57, 0.56, 0.55, 0.55, 0.54, 0.54, 0.55, 0.54, 0.54, 0.54,
             0.54, 0.53, 0.53, 0.54, 0.54, 0.53, 0.53, 0.54, 0.53, 0.52,
             0.52, 0.51, 0.51, 0.52, 0.54, 0.56, 0.57, 0.57, 0.59, 0.60,
             0.56, 0.50, 0.48, 0.46, 0.45, 0.45, 0.44, 0.43, 0.43, 0.43,
             0.42, 0.43, 0.44, 0.44, 0.45, 0.46, 0.46, 0.45, 0.45, 0.45,
             0.44, 0.44, 0.43, 0.42, 0.40, 0.38, 0.36, 0.35, 0.36]

TOTUSJH_BC = [0.41, 0.41, 0.40, 0.40, 0.39, 0.38, 0.34, 0.31, 0.29, 0.28,
              0.27, 0.25, 0.27, 0.28, 0.27, 0.28, 0.29, 0.29, 0.29, 0.28,
              0.28, 0.28, 0.27, 0.27, 0.27, 0.26, 0.26, 0.27, 0.27, 0.26,
              0.26, 0.26, 0.27, 0.27, 0.28, 0.29, 0.29, 0.27, 0.26, 0.25,
              0.24, 0.22, 0.21, 0.19, 0.18, 0.16, 0.15, 0.14, 0.13, 0.12,
              0.12, 0.11, 0.10, 0.10, 0.09, 0.09, 0.08, 0.08, 0.07, 0.06,
              0.05, 0.04, 0.04, 0.03, 0.03, 0.03, 0.03, 0.04, 0.04, 0.05,
              0.05, 0.05, 0.06, 0.06, 0.07, 0.07, 0.08, 0.09, 0.10, 0.10,
              0.09, 0.09, 0.10, 0.14, 0.17, 0.18, 0.18, 0.19, 0.20, 0.19,
              0.15, 0.13, 0.13, 0.12, 0.12, 0.12, 0.12, 0.11, 0.11, 0.11,
              0.11, 0.11, 0.12, 0.12, 0.12, 0.12, 0.11, 0.11, 0.11, 0.10,
              0.10, 0.09, 0.08, 0.07, 0.05, 0.04, 0.03, 0.02, 0.01]
TOTUSJH_MX = [1.00, 1.00, 0.99, 0.99, 0.98, 0.97, 0.96, 0.94, 0.93, 0.91,
              0.90, 0.89, 0.88, 0.87, 0.88, 0.87, 0.88, 0.88, 0.87, 0.86,
              0.86, 0.87, 0.86, 0.87, 0.86, 0.85, 0.85, 0.85, 0.84, 0.84,
              0.84, 0.85, 0.84, 0.85, 0.84, 0.85, 0.86, 0.86, 0.84, 0.83,
              0.82, 0.81, 0.79, 0.78, 0.77, 0.76, 0.75, 0.73, 0.72, 0.71,
              0.70, 0.69, 0.69, 0.68, 0.68, 0.68, 0.68, 0.67, 0.66, 0.66,
              0.65, 0.64, 0.63, 0.62, 0.62, 0.63, 0.63, 0.63, 0.64, 0.64,
              0.64, 0.63, 0.64, 0.63, 0.63, 0.64, 0.65, 0.64, 0.63, 0.62,
              0.61, 0.62, 0.63, 0.65, 0.67, 0.68, 0.69, 0.69, 0.69, 0.68,
              0.64, 0.61, 0.59, 0.59, 0.58, 0.57, 0.57, 0.56, 0.55, 0.56,
              0.57, 0.57, 0.58, 0.58, 0.58, 0.57, 0.57, 0.57, 0.56, 0.56,
              0.56, 0.55, 0.55, 0.54, 0.53, 0.51, 0.50, 0.48, 0.48]

TOTUSJZ_BC = [0.41, 0.42, 0.40, 0.39, 0.38, 0.38, 0.39, 0.30, 0.28, 0.28,
              0.26, 0.24, 0.27, 0.30, 0.29, 0.28, 0.27, 0.26, 0.27, 0.28,
              0.28, 0.29, 0.28, 0.28, 0.27, 0.26, 0.26, 0.25, 0.26, 0.26,
              0.26, 0.27, 0.27, 0.28, 0.29, 0.30, 0.32, 0.30, 0.27, 0.25,
              0.24, 0.23, 0.22, 0.20, 0.18, 0.16, 0.15, 0.13, 0.12, 0.11,
              0.10, 0.09, 0.09, 0.10, 0.11, 0.10, 0.10, 0.09, 0.08, 0.07,
              0.06, 0.05, 0.04, 0.04, 0.05, 0.05, 0.05, 0.06, 0.06, 0.06,
              0.06, 0.07, 0.08, 0.08, 0.09, 0.10, 0.11, 0.12, 0.13, 0.13,
              0.12, 0.13, 0.14, 0.16, 0.19, 0.20, 0.20, 0.20, 0.19, 0.18,
              0.16, 0.15, 0.14, 0.13, 0.12, 0.12, 0.13, 0.12, 0.11, 0.11,
              0.12, 0.13, 0.14, 0.14, 0.13, 0.13, 0.12, 0.12, 0.12, 0.11,
              0.11, 0.09, 0.07, 0.06, 0.05, 0.04, 0.02, 0.01, 0.01]
TOTUSJZ_MX = [1.00, 0.99, 0.99, 0.98, 0.97, 0.97, 0.96, 0.95, 0.92, 0.89,
              0.89, 0.88, 0.88, 0.86, 0.87, 0.88, 0.87, 0.87, 0.86, 0.86,
              0.86, 0.87, 0.86, 0.85, 0.85, 0.84, 0.84, 0.83, 0.83, 0.84,
              0.84, 0.83, 0.83, 0.84, 0.85, 0.86, 0.87, 0.86, 0.84, 0.82,
              0.80, 0.79, 0.78, 0.77, 0.75, 0.74, 0.73, 0.72, 0.71, 0.70,
              0.69, 0.69, 0.68, 0.69, 0.68, 0.68, 0.67, 0.67, 0.66, 0.65,
              0.64, 0.63, 0.62, 0.61, 0.61, 0.62, 0.63, 0.63, 0.64, 0.63,
              0.64, 0.65, 0.65, 0.66, 0.66, 0.67, 0.66, 0.65, 0.65, 0.66,
              0.67, 0.66, 0.65, 0.66, 0.68, 0.68, 0.68, 0.67, 0.66, 0.65,
              0.64, 0.62, 0.61, 0.60, 0.59, 0.58, 0.57, 0.56, 0.56, 0.55,
              0.55, 0.56, 0.57, 0.58, 0.58, 0.58, 0.57, 0.57, 0.57, 0.56,
              0.56, 0.55, 0.54, 0.53, 0.51, 0.49, 0.48, 0.46, 0.46]

USFLUX_BC = [0.31, 0.31, 0.30, 0.29, 0.28, 0.28, 0.25, 0.22, 0.22, 0.19,
             0.19, 0.18, 0.18, 0.20, 0.21, 0.22, 0.23, 0.24, 0.23, 0.23,
             0.22, 0.22, 0.21, 0.20, 0.20, 0.19, 0.19, 0.20, 0.20, 0.19,
             0.19, 0.20, 0.20, 0.20, 0.21, 0.21, 0.20, 0.18, 0.17, 0.15,
             0.14, 0.12, 0.11, 0.10, 0.09, 0.08, 0.07, 0.06, 0.05, 0.04,
             0.04, 0.04, 0.04, 0.04, 0.04, 0.04, 0.04, 0.04, 0.03, 0.03,
             0.02, 0.02, 0.02, 0.01, 0.01, 0.02, 0.02, 0.02, 0.01, 0.01,
             0.02, 0.02, 0.03, 0.03, 0.02, 0.03, 0.04, 0.05, 0.06, 0.07,
             0.07, 0.07, 0.07, 0.08, 0.09, 0.14, 0.16, 0.18, 0.17, 0.14,
             0.11, 0.10, 0.10, 0.10, 0.09, 0.09, 0.10, 0.10, 0.10, 0.11,
             0.11, 0.12, 0.12, 0.13, 0.13, 0.12, 0.12, 0.12, 0.11, 0.11,
             0.10, 0.09, 0.08, 0.07, 0.06, 0.04, 0.03, 0.02, 0.02]
USFLUX_MX = [1.00, 1.00, 0.99, 0.98, 0.97, 0.96, 0.95, 0.94, 0.92, 0.91,
             0.89, 0.89, 0.89, 0.90, 0.89, 0.88, 0.89, 0.90, 0.91, 0.92,
             0.91, 0.90, 0.89, 0.88, 0.88, 0.87, 0.86, 0.86, 0.85, 0.85,
             0.86, 0.86, 0.84, 0.85, 0.86, 0.87, 0.88, 0.86, 0.85, 0.83,
             0.82, 0.81, 0.80, 0.79, 0.78, 0.77, 0.76, 0.76, 0.75, 0.74,
             0.74, 0.73, 0.73, 0.73, 0.74, 0.73, 0.73, 0.73, 0.74, 0.73,
             0.73, 0.72, 0.72, 0.71, 0.71, 0.71, 0.70, 0.70, 0.70, 0.69,
             0.69, 0.70, 0.70, 0.70, 0.71, 0.71, 0.70, 0.70, 0.70, 0.71,
             0.71, 0.70, 0.70, 0.71, 0.74, 0.75, 0.75, 0.76, 0.75, 0.73,
             0.69, 0.67, 0.66, 0.66, 0.65, 0.64, 0.64, 0.63, 0.63, 0.63,
             0.64, 0.64, 0.65, 0.65, 0.66, 0.66, 0.67, 0.66, 0.66, 0.65,
             0.64, 0.63, 0.62, 0.62, 0.60, 0.59, 0.57, 0.55, 0.55]

D_L_F_BC = [0.79, 0.60, 0.69, 0.45, 0.35, 0.62, 0.45, 0.44, 0.52, 0.46,
            0.34, 0.35, 0.43, 0.54, 0.51, 0.66, 0.67, 0.53, 0.58, 0.62,
            0.63, 0.76, 0.73, 0.55, 0.73, 0.70, 0.60, 0.60, 0.51, 0.60,
            0.64, 0.62, 0.58, 0.69, 0.78, 0.57, 0.64, 0.69, 0.56, 0.54,
            0.47, 0.44, 0.44, 0.43, 0.55, 0.58, 0.55, 0.46, 0.47, 0.46,
            0.55, 0.60, 0.47, 0.36, 0.44, 0.44, 0.60, 0.46, 0.48, 0.37,
            0.32, 0.50, 0.50, 0.34, 0.43, 0.45, 0.51, 0.50, 0.36, 0.35,
            0.38, 0.30, 0.10, 0.40, 0.45, 0.18, 0.30, 0.33, 0.32, 0.18,
            0.16, 0.43, 0.34, 0.37, 0.38, 0.57, 0.53, 0.55, 0.31, 0.31,
            0.23, 0.35, 0.35, 0.24, 0.31, 0.22, 0.24, 0.23, 0.18, 0.11,
            0.28, 0.12, 0.18, 0.37, 0.40, 0.20, 0.32, 0.14, 0.12, 0.11,
            0.12, 0.14, 0.20, 0.19, 0.02, 0.10, 0.13, 0.09, 0.10]
D_L_F_MX = [0.99, 0.87, 0.90, 0.77, 0.75, 0.90, 0.78, 0.77, 0.84, 0.83,
            0.66, 0.60, 0.66, 0.78, 0.77, 0.83, 0.79, 0.70, 0.69, 0.74,
            0.75, 0.87, 0.84, 0.67, 0.80, 0.73, 0.70, 0.66, 0.63, 0.65,
            0.70, 0.69, 0.63, 0.71, 0.77, 0.59, 0.68, 0.70, 0.63, 0.61,
            0.56, 0.52, 0.52, 0.42, 0.55, 0.57, 0.61, 0.57, 0.50, 0.58,
            0.66, 0.60, 0.54, 0.55, 0.59, 0.53, 0.73, 0.53, 0.52, 0.46,
            0.43, 0.56, 0.55, 0.46, 0.50, 0.62, 0.64, 0.57, 0.57, 0.65,
            0.57, 0.56, 0.33, 0.60, 0.70, 0.46, 0.47, 0.50, 0.53, 0.47,
            0.47, 0.64, 0.63, 0.64, 0.66, 0.80, 0.77, 0.74, 0.57, 0.52,
            0.36, 0.61, 0.57, 0.53, 0.52, 0.44, 0.52, 0.51, 0.48, 0.40,
            0.45, 0.33, 0.43, 0.57, 0.57, 0.44, 0.52, 0.41, 0.38, 0.36,
            0.37, 0.38, 0.43, 0.38, 0.28, 0.29, 0.35, 0.32, 0.30]

G_S_BC = [0.12, 0.26, 0.30, 0.20, 0.27, 0.33, 0.23, 0.20, 0.10, 0.25,
          0.27, 0.28, 0.46, 0.42, 0.19, 0.35, 0.48, 0.50, 0.38, 0.38,
          0.38, 0.35, 0.27, 0.18, 0.17, 0.19, 0.16, 0.14, 0.25, 0.11,
          0.11, 0.04, 0.12, 0.11, 0.07, 0.06, 0.04, 0.07, 0.13, 0.11,
          0.12, 0.20, 0.19, 0.12, 0.11, 0.20, 0.23, 0.22, 0.14, 0.01,
          0.16, 0.22, 0.05, 0.19, 0.26, 0.32, 0.48, 0.44, 0.71, 0.57,
          0.53, 0.40, 0.46, 0.41, 0.41, 0.43, 0.47, 0.51, 0.46, 0.43,
          0.50, 0.55, 0.44, 0.44, 0.42, 0.46, 0.42, 0.63, 0.44, 0.42,
          0.37, 0.26, 0.34, 0.39, 0.59, 0.58, 0.58, 0.61, 0.47, 0.67,
          0.99, 0.91, 0.67, 0.69, 0.83, 0.65, 0.51, 0.46, 0.34, 0.60,
          0.38, 0.34, 0.44, 0.31, 0.26, 0.24, 0.36, 0.20, 0.03, 0.23,
          0.25, 0.24, 0.26, 0.24, 0.13, 0.03, 0.23, 0.33, 0.12]
G_S_MX = [0.20, 0.32, 0.37, 0.24, 0.30, 0.37, 0.25, 0.21, 0.16, 0.28,
          0.28, 0.26, 0.39, 0.37, 0.15, 0.26, 0.35, 0.37, 0.43, 0.31,
          0.40, 0.70, 0.30, 0.25, 0.27, 0.24, 0.27, 0.22, 0.31, 0.16,
          0.22, 0.18, 0.22, 0.23, 0.22, 0.18, 0.20, 0.19, 0.27, 0.30,
          0.40, 0.39, 0.35, 0.29, 0.34, 0.35, 0.38, 0.23, 0.15, 0.10,
          0.30, 0.15, 0.08, 0.20, 0.24, 0.31, 0.43, 0.45, 0.59, 0.58,
          0.52, 0.38, 0.45, 0.43, 0.42, 0.43, 0.48, 0.50, 0.55, 0.55,
          0.56, 0.59, 0.48, 0.46, 0.42, 0.48, 0.45, 0.62, 0.45, 0.41,
          0.47, 0.44, 0.49, 0.50, 0.58, 0.61, 0.55, 0.65, 0.46, 0.63,
          0.84, 0.77, 0.57, 0.64, 0.70, 0.64, 0.54, 0.47, 0.36, 0.59,
          0.43, 0.37, 0.41, 0.30, 0.28, 0.28, 0.35, 0.23, 0.16, 0.34,
          0.40, 0.45, 0.40, 0.29, 0.25, 0.22, 0.26, 0.35, 0.21]

SLF_BC = [0.79, 0.65, 0.55, 0.42, 0.43, 0.62, 0.56, 0.56, 0.65, 0.56,
          0.82, 0.76, 0.89, 0.86, 0.87, 0.89, 0.99, 0.66, 0.72, 0.72,
          0.86, 0.83, 0.78, 0.90, 0.89, 0.86, 0.75, 0.74, 0.72, 0.74,
          0.66, 0.70, 0.68, 0.48, 0.76, 0.46, 0.55, 0.60, 0.44, 0.58,
          0.41, 0.39, 0.41, 0.43, 0.43, 0.44, 0.44, 0.54, 0.42, 0.55,
          0.69, 0.65, 0.44, 0.43, 0.47, 0.46, 0.60, 0.45, 0.45, 0.32,
          0.34, 0.50, 0.43, 0.29, 0.29, 0.29, 0.30, 0.30, 0.27, 0.30,
          0.22, 0.20, 0.05, 0.18, 0.24, 0.08, 0.11, 0.16, 0.18, 0.17,
          0.04, 0.19, 0.15, 0.20, 0.29, 0.31, 0.31, 0.31, 0.27, 0.14,
          0.17, 0.14, 0.33, 0.07, 0.09, 0.06, 0.12, 0.20, 0.11, 0.12,
          0.21, 0.21, 0.19, 0.30, 0.29, 0.11, 0.15, 0.13, 0.14, 0.17,
          0.22, 0.28, 0.28, 0.40, 0.00, 0.19, 0.15, 0.12, 0.09]
SLF_MX = [0.68, 0.58, 0.52, 0.44, 0.52, 0.61, 0.55, 0.55, 0.56, 0.51,
          0.66, 0.55, 0.66, 0.70, 0.72, 0.75, 0.72, 0.46, 0.48, 0.50,
          0.61, 0.60, 0.60, 0.61, 0.64, 0.58, 0.58, 0.58, 0.56, 0.50,
          0.51, 0.53, 0.53, 0.36, 0.62, 0.23, 0.34, 0.38, 0.25, 0.43,
          0.33, 0.33, 0.33, 0.18, 0.33, 0.23, 0.36, 0.39, 0.24, 0.40,
          0.52, 0.44, 0.30, 0.35, 0.37, 0.34, 0.48, 0.30, 0.35, 0.22,
          0.23, 0.37, 0.30, 0.18, 0.18, 0.33, 0.31, 0.20, 0.30, 0.45,
          0.23, 0.21, 0.05, 0.30, 0.37, 0.17, 0.15, 0.17, 0.29, 0.33,
          0.22, 0.28, 0.29, 0.34, 0.43, 0.42, 0.39, 0.28, 0.26, 0.22,
          0.09, 0.35, 0.39, 0.22, 0.21, 0.21, 0.25, 0.31, 0.26, 0.27,
          0.25, 0.22, 0.24, 0.30, 0.29, 0.19, 0.17, 0.16, 0.15, 0.18,
          0.22, 0.27, 0.26, 0.28, 0.04, 0.24, 0.22, 0.15, 0.09]

BC_SERIES = [ABSNJZH_BC, AREA_ACR_BC, MEANGAM_BC, MEANGBH_BC, MEANGBT_BC,
             MEANGBZ_BC, MEANJZD_BC, MEANJZH_BC, MEANPOT_BC, MEANSHR_BC,
             R_VALUE_BC, SAVNCPP_BC, SHRGT45_BC, TOTPOT_BC, TOTUSJH_BC,
             TOTUSJZ_BC, USFLUX_BC, D_L_F_BC, G_S_BC, SLF_BC]
MX_SERIES = [ABSNJZH_MX, AREA_ACR_MX, MEANGAM_MX, MEANGBH_MX, MEANGBT_MX,
             MEANGBZ_MX, MEANJZD_MX, MEANJZH_MX, MEANPOT_MX, MEANSHR_MX,
             R_VALUE_MX, SAVNCPP_MX, SHRGT45_MX, TOTPOT_MX, TOTUSJH_MX,
             TOTUSJZ_MX, USFLUX_MX, D_L_F_MX, G_S_MX, SLF_MX]

# typical error-bar half-widths per feature
BC_ERR = [0.018, 0.012, 0.02, 0.02, 0.025, 0.03, 0.03, 0.03, 0.012, 0.025,
          0.025, 0.015, 0.025, 0.01, 0.01, 0.01, 0.01, 0.03, 0.03, 0.03]
MX_ERR = [0.018, 0.012, 0.02, 0.02, 0.025, 0.03, 0.03, 0.025, 0.012, 0.025,
          0.02, 0.015, 0.025, 0.01, 0.01, 0.01, 0.01, 0.03, 0.03, 0.03]

fig, axes = plt.subplots(7, 3, figsize=(20, 22), dpi=100)
flat = axes.ravel()
for i, name in enumerate(FEATURES):
    ax = flat[i]
    bc = np.asarray(BC_SERIES[i])
    mx = np.asarray(MX_SERIES[i])
    ax.errorbar(np.arange(len(bc)), bc, yerr=BC_ERR[i], color="blue",
                capsize=5, label="BC")
    ax.errorbar(np.arange(len(mx)), mx, yerr=MX_ERR[i], color="red",
                capsize=5, label="MX")
    ax.set_title(name)
    ax.set_ylabel(name)
    ax.legend(loc="upper right")

fig.tight_layout()
fig.savefig("out.png", dpi=100)
